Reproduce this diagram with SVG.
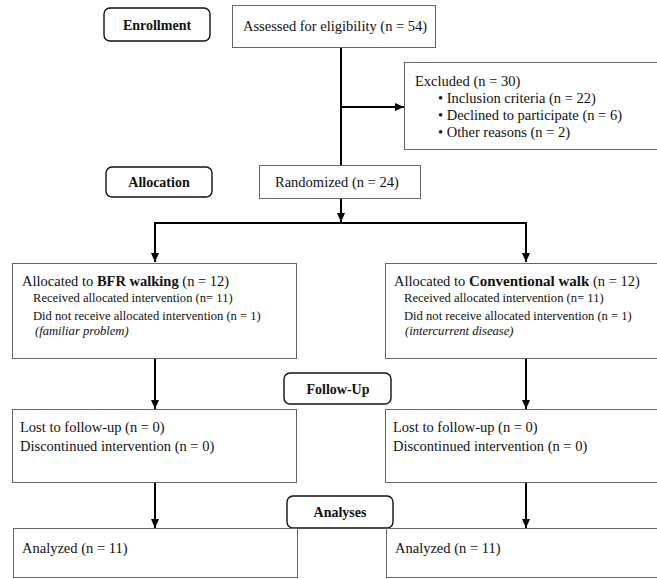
<svg xmlns="http://www.w3.org/2000/svg" width="657" height="579" viewBox="0 0 657 579">
<defs>
<style>
text{font-family:"Liberation Serif","Times New Roman",serif;fill:#111}
.m{font-size:14.5px}
.s{font-size:12.6px}
.b{font-weight:bold}
.i{font-style:italic}
.lbl{font-size:14px;font-weight:bold;text-anchor:middle}
.box{fill:#fff;stroke:#666;stroke-width:1}
.stage{fill:#fff;stroke:#111;stroke-width:1.4}
.c{fill:none;stroke:#000;stroke-width:2}
</style>
<marker id="ah" markerWidth="10" markerHeight="10" refX="9" refY="5" orient="auto" markerUnits="userSpaceOnUse">
<path d="M0,1 L9,5 L0,9 Z" fill="#000"/>
</marker>
</defs>
<rect width="657" height="579" fill="#fff"/>
<g id="connectors">
<path class="c" d="M341,48 V165"/>
<path class="c" d="M341,107 H404" marker-end="url(#ah)"/>
<path class="c" d="M341,199 V222" marker-end="url(#ah)"/>
<path class="c" d="M155,262 V223 H526 V262" />
<path class="c" d="M155,240 V262" marker-end="url(#ah)"/>
<path class="c" d="M526,240 V262" marker-end="url(#ah)"/>
<path class="c" d="M155,359 V409" marker-end="url(#ah)"/>
<path class="c" d="M526,359 V409" marker-end="url(#ah)"/>
<path class="c" d="M155,482 V528" marker-end="url(#ah)"/>
<path class="c" d="M526,482 V528" marker-end="url(#ah)"/>
</g>
<g id="enrollment">
<rect class="stage" x="104" y="8" width="106" height="33" rx="6"/>
<text class="lbl" x="157" y="30">Enrollment</text>
</g>
<g id="assessed">
<rect class="box" x="232.5" y="5.5" width="203" height="42"/>
<text class="m" x="243" y="31">Assessed for eligibility (n = 54)</text>
</g>
<g id="excluded">
<rect class="box" x="404.5" y="62.5" width="260" height="87"/>
<text class="m" x="415" y="86">Excluded (n = 30)</text>
<text class="m" x="438" y="103">• Inclusion criteria (n = 22)</text>
<text class="m" x="438" y="120">• Declined to participate (n = 6)</text>
<text class="m" x="438" y="137">• Other reasons (n = 2)</text>
</g>
<g id="allocation">
<rect class="stage" x="106" y="167" width="106" height="30" rx="6"/>
<text class="lbl" x="159" y="187">Allocation</text>
</g>
<g id="randomized">
<rect class="box" x="259.5" y="165.5" width="161" height="33"/>
<text class="m" x="275" y="187">Randomized (n = 24)</text>
</g>
<g id="alloc-bfr">
<rect class="box" x="12.5" y="263.5" width="284" height="95"/>
<text class="m" x="22" y="286">Allocated to <tspan class="b">BFR walking</tspan> (n = 12)</text>
<text class="s" x="33" y="302">Received allocated intervention (n= 11)</text>
<text class="s" x="33" y="320">Did not receive allocated intervention (n = 1)</text>
<text class="s i" x="35" y="335">(familiar problem)</text>
</g>
<g id="alloc-conv">
<rect class="box" x="385.5" y="263.5" width="280" height="95"/>
<text class="m" x="394" y="286">Allocated to <tspan class="b" style="font-size:15px">Conventional walk</tspan> (n = 12)</text>
<text class="s" x="404" y="302">Received allocated intervention (n= 11)</text>
<text class="s" x="404" y="320">Did not receive allocated intervention (n = 1)</text>
<text class="s i" x="405" y="335">(intercurrent disease)</text>
</g>
<g id="followup">
<rect class="stage" x="284" y="373" width="107" height="31" rx="6"/>
<text class="lbl" x="338" y="394">Follow-Up</text>
</g>
<g id="lost-bfr">
<rect class="box" x="12.5" y="409.5" width="284" height="73"/>
<text class="m" x="20" y="432">Lost to follow-up (n = 0)</text>
<text class="m" x="20" y="451">Discontinued intervention (n = 0)</text>
</g>
<g id="lost-conv">
<rect class="box" x="385.5" y="409.5" width="280" height="73"/>
<text class="m" x="393" y="432">Lost to follow-up (n = 0)</text>
<text class="m" x="393" y="451">Discontinued intervention (n = 0)</text>
</g>
<g id="analyses">
<rect class="stage" x="287" y="496" width="106" height="32" rx="6"/>
<text class="lbl" x="340" y="517">Analyses</text>
</g>
<g id="analyzed-bfr">
<rect class="box" x="13.5" y="528.5" width="284" height="49"/>
<text class="m" x="22" y="553">Analyzed (n = 11)</text>
</g>
<g id="analyzed-conv">
<rect class="box" x="386.5" y="528.5" width="280" height="49"/>
<text class="m" x="395" y="553">Analyzed (n = 11)</text>
</g>
</svg>
